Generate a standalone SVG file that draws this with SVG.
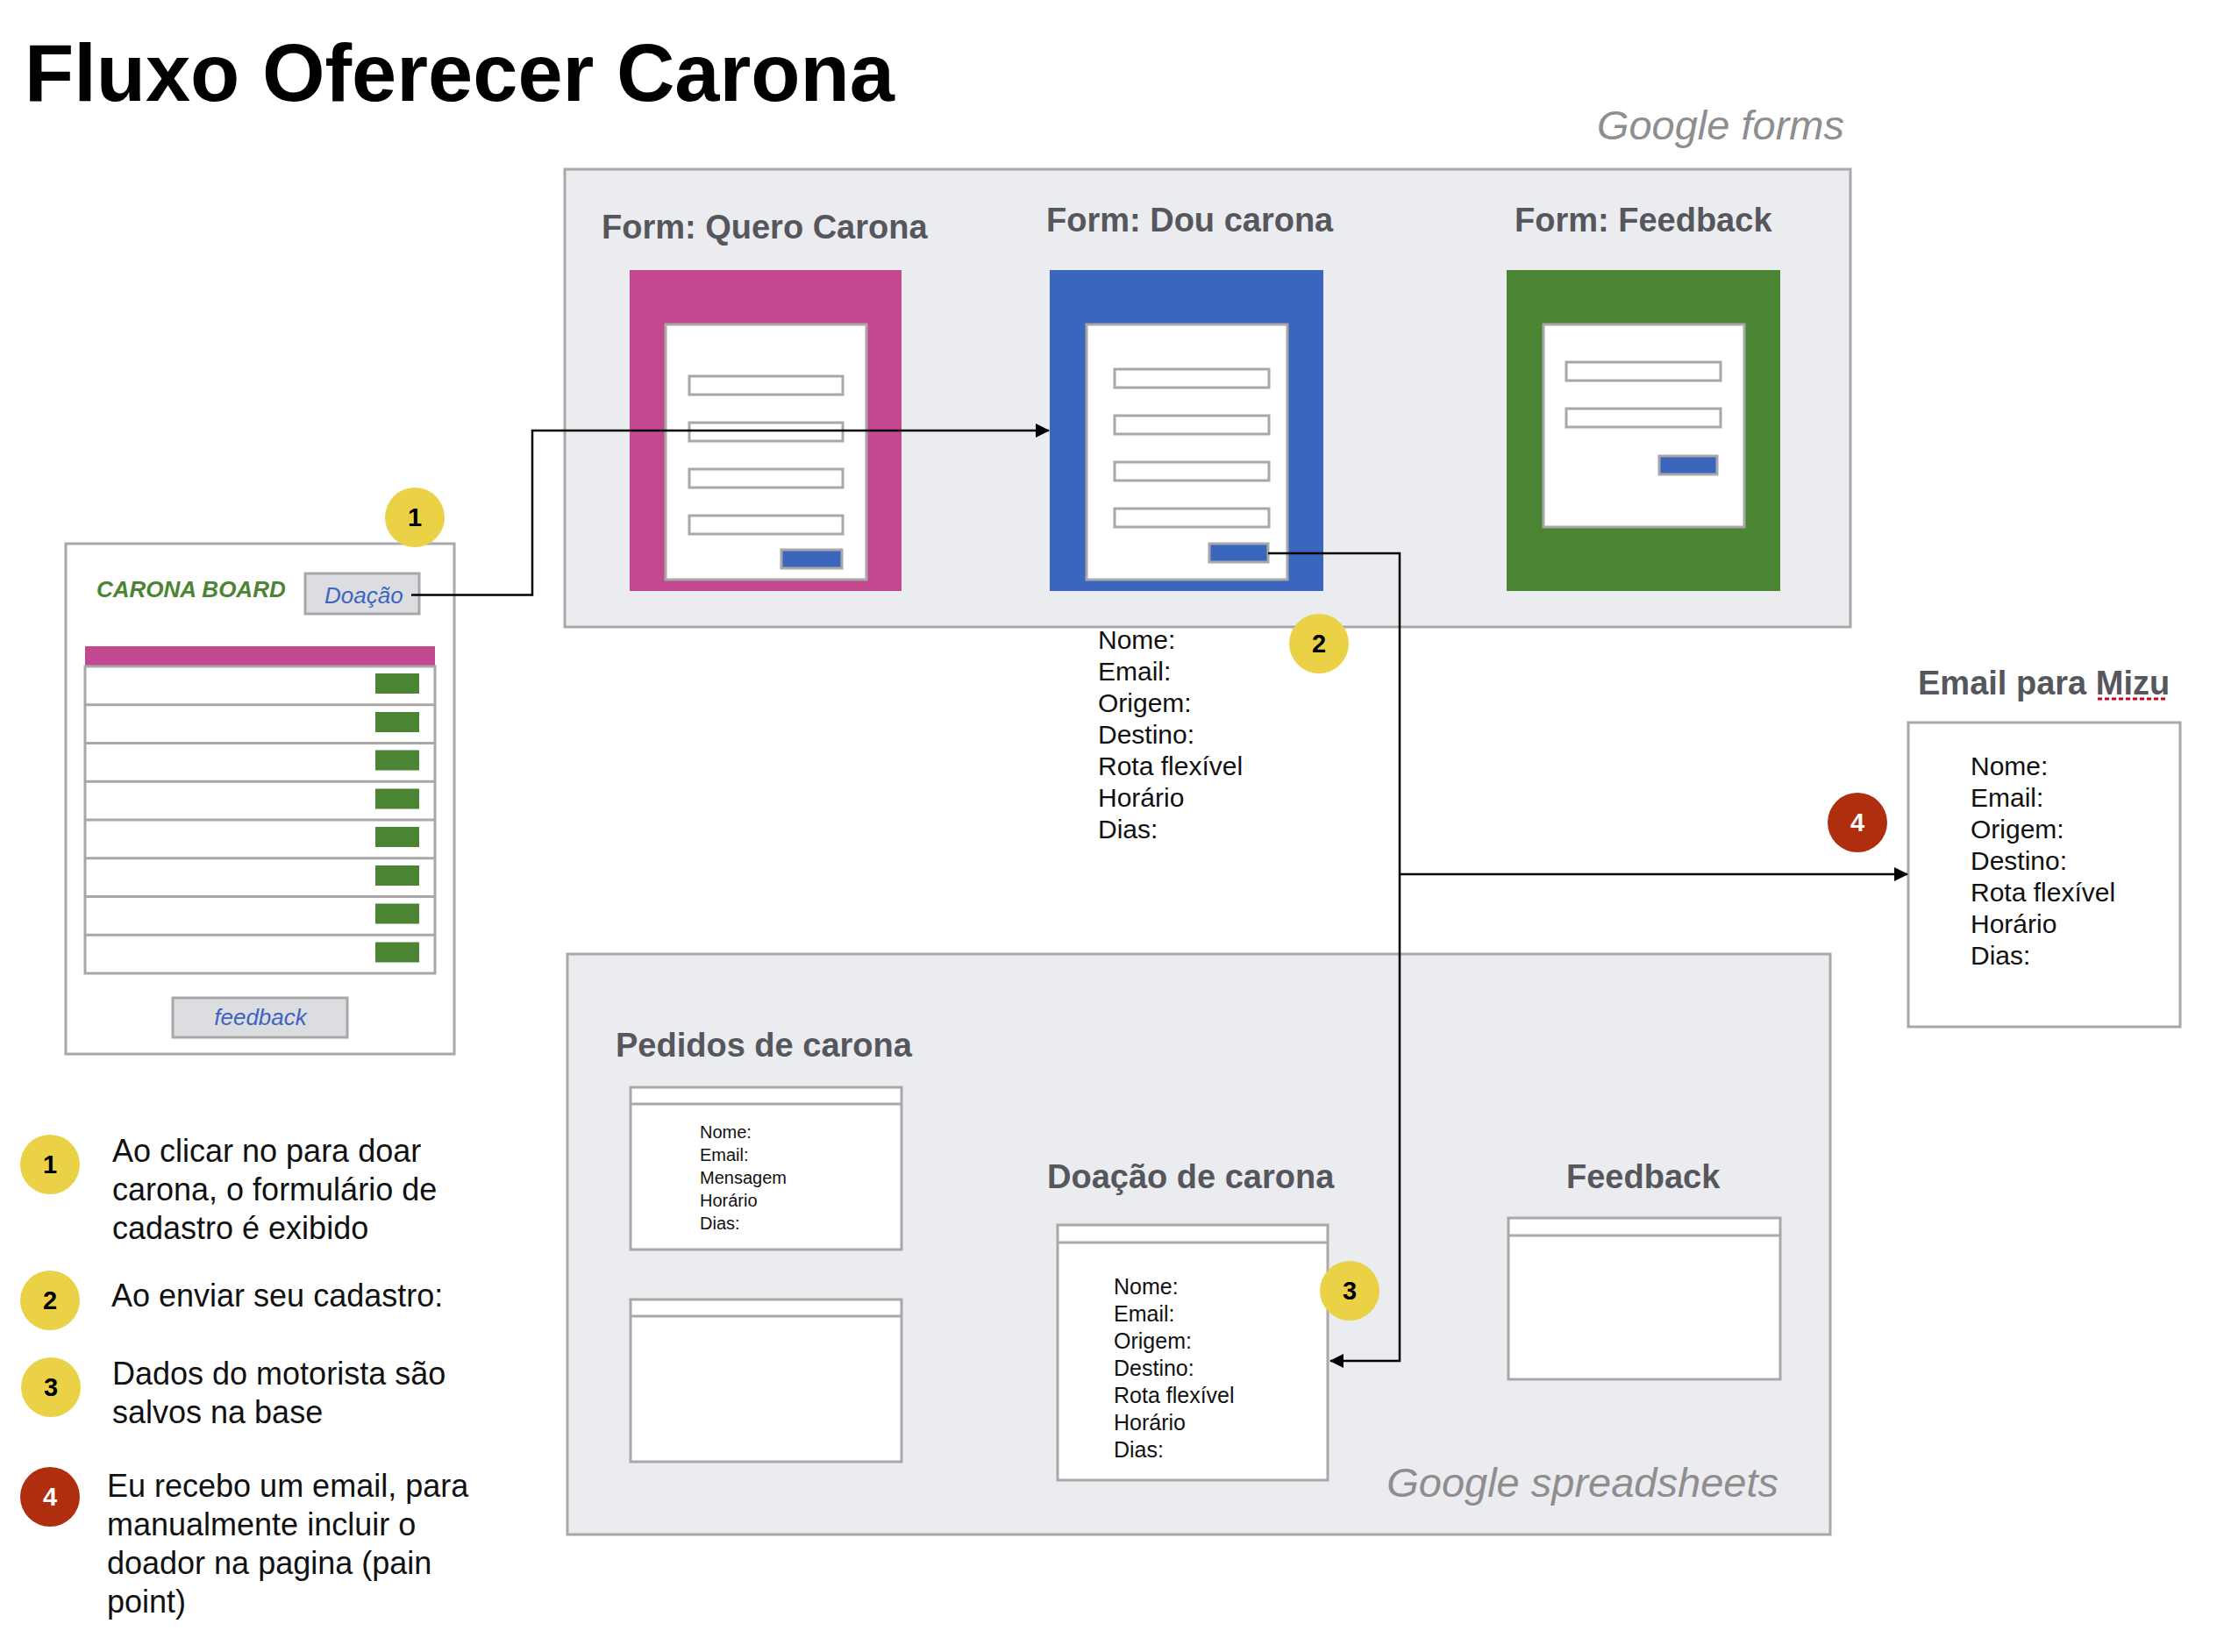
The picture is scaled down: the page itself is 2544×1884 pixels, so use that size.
<svg xmlns="http://www.w3.org/2000/svg" width="2544" height="1884" viewBox="0 0 2544 1884">
  <defs>
    <style>
      text { font-family: "Liberation Sans", Arial, Helvetica, sans-serif; }
      .title { font-size: 92px; font-weight: bold; fill: #000; }
      .head { font-size: 38px; font-weight: bold; fill: #55575d; }
      .service { font-size: 47px; font-style: italic; fill: #8e8e8e; }
      .panel { fill: #ebecf0; stroke: #a8a8a8; stroke-width: 3; }
      .sheet { fill: #fff; stroke: #a8a8a8; stroke-width: 3; }
      .field { fill: #fff; stroke: #a8a8a8; stroke-width: 3; }
      .submit { fill: #3a66bd; stroke: #a8a8a8; stroke-width: 3; }
      .btn { fill: #dcdde0; stroke: #a8a8a8; stroke-width: 3; }
      .btn-label { font-size: 26px; font-style: italic; fill: #3d64c0; }
      .row-btn { fill: #4b8534; }
      .body30 { font-size: 30px; fill: #111; }
      .body25 { font-size: 25px; fill: #111; }
      .body20 { font-size: 20px; fill: #111; }
      .legend { font-size: 36px; fill: #111; }
      .badge { fill: #ead146; }
      .badge-red { fill: #ae2e0e; }
      .badge-num { font-size: 29px; font-weight: bold; fill: #000; text-anchor: middle; }
      .badge-num-w { font-size: 29px; font-weight: bold; fill: #fff; text-anchor: middle; }
      .wire { fill: none; stroke: #000; stroke-width: 2.5; }
    </style>
    <marker id="arrow" viewBox="0 0 16 16" refX="15" refY="8" markerWidth="16" markerHeight="16" markerUnits="userSpaceOnUse" orient="auto">
      <path d="M0,0 L16,8 L0,16 Z" fill="#000"/>
    </marker>
  </defs>

  <rect x="0" y="0" width="2544" height="1884" fill="#fff"/>

  <text class="title" x="28" y="115">Fluxo Oferecer Carona</text>

  <!-- Google forms container -->
  <g id="google-forms">
    <rect class="panel" x="644" y="193" width="1466" height="522"/>
    <text class="service" x="2103" y="159" text-anchor="end">Google forms</text>
  </g>

  <g id="form-quero-carona">
    <text class="head" x="686" y="272">Form: Quero Carona</text>
    <rect x="718" y="308" width="310" height="366" fill="#c4488f"/>
    <rect class="sheet" x="759" y="370" width="229" height="291"/>
    <rect class="field" x="786" y="429" width="175" height="21"/>
    <rect class="field" x="786" y="482" width="175" height="21"/>
    <rect class="field" x="786" y="535" width="175" height="21"/>
    <rect class="field" x="786" y="588" width="175" height="21"/>
    <rect class="submit" x="891" y="627" width="69" height="21"/>
  </g>

  <g id="form-dou-carona">
    <text class="head" x="1193" y="264">Form: Dou carona</text>
    <rect x="1197" y="308" width="312" height="366" fill="#3a66bd"/>
    <rect class="sheet" x="1239" y="370" width="229" height="291"/>
    <rect class="field" x="1271" y="421" width="176" height="21"/>
    <rect class="field" x="1271" y="474" width="176" height="21"/>
    <rect class="field" x="1271" y="527" width="176" height="21"/>
    <rect class="field" x="1271" y="580" width="176" height="21"/>
    <rect class="submit" x="1379" y="620" width="67" height="21"/>
  </g>

  <g id="form-feedback">
    <text class="head" x="1727" y="264">Form: Feedback</text>
    <rect x="1718" y="308" width="312" height="366" fill="#4b8534"/>
    <rect class="sheet" x="1760" y="370" width="229" height="231"/>
    <rect class="field" x="1786" y="413" width="176" height="21"/>
    <rect class="field" x="1786" y="466" width="176" height="21"/>
    <rect class="submit" x="1892" y="520" width="66" height="21"/>
  </g>

  <!-- Fields sent with the ride offer -->
  <g id="offer-fields">
    <text class="body30" x="1252" y="740">Nome:</text>
    <text class="body30" x="1252" y="776">Email:</text>
    <text class="body30" x="1252" y="812">Origem:</text>
    <text class="body30" x="1252" y="848">Destino:</text>
    <text class="body30" x="1252" y="884">Rota flexível</text>
    <text class="body30" x="1252" y="920">Horário</text>
    <text class="body30" x="1252" y="956">Dias:</text>
  </g>

  <!-- Carona board page -->
  <g id="carona-board">
    <rect class="sheet" x="75" y="620" width="443" height="582"/>
    <text x="110" y="681" font-size="26" font-weight="bold" font-style="italic" fill="#4b8534">CARONA BOARD</text>
    <rect class="btn" x="348" y="654" width="130" height="46"/>
    <text class="btn-label" x="370" y="688">Doação</text>
    <rect x="97" y="737" width="399" height="23" fill="#c4488f"/>
    <rect x="97" y="760" width="399" height="350" fill="#fff" stroke="#a8a8a8" stroke-width="3"/>
    <g stroke="#a8a8a8" stroke-width="3">
      <line x1="97" y1="803.75" x2="496" y2="803.75"/>
      <line x1="97" y1="847.5" x2="496" y2="847.5"/>
      <line x1="97" y1="891.25" x2="496" y2="891.25"/>
      <line x1="97" y1="935" x2="496" y2="935"/>
      <line x1="97" y1="978.75" x2="496" y2="978.75"/>
      <line x1="97" y1="1022.5" x2="496" y2="1022.5"/>
      <line x1="97" y1="1066.25" x2="496" y2="1066.25"/>
    </g>
    <rect class="row-btn" x="428" y="768" width="50" height="23"/>
    <rect class="row-btn" x="428" y="812" width="50" height="23"/>
    <rect class="row-btn" x="428" y="855.5" width="50" height="23"/>
    <rect class="row-btn" x="428" y="899.5" width="50" height="23"/>
    <rect class="row-btn" x="428" y="943" width="50" height="23"/>
    <rect class="row-btn" x="428" y="987" width="50" height="23"/>
    <rect class="row-btn" x="428" y="1030.5" width="50" height="23"/>
    <rect class="row-btn" x="428" y="1074.5" width="50" height="23"/>
    <rect class="btn" x="197" y="1138" width="199" height="45"/>
    <text class="btn-label" x="297" y="1169" text-anchor="middle">feedback</text>
  </g>

  <!-- Email sent to Mizu -->
  <g id="email-mizu">
    <text class="head" x="2187" y="792">Email para Mizu</text>
    <line x1="2392" y1="797" x2="2471" y2="797" stroke="#d0021b" stroke-width="3" stroke-dasharray="5,3"/>
    <rect class="sheet" x="2176" y="824" width="310" height="347"/>
    <text class="body30" x="2247" y="884">Nome:</text>
    <text class="body30" x="2247" y="920">Email:</text>
    <text class="body30" x="2247" y="956">Origem:</text>
    <text class="body30" x="2247" y="992">Destino:</text>
    <text class="body30" x="2247" y="1028">Rota flexível</text>
    <text class="body30" x="2247" y="1064">Horário</text>
    <text class="body30" x="2247" y="1100">Dias:</text>
  </g>

  <!-- Google spreadsheets container -->
  <g id="google-spreadsheets">
    <rect class="panel" x="647" y="1088" width="1440" height="662"/>
    <text class="service" x="2028" y="1707" text-anchor="end">Google spreadsheets</text>
  </g>

  <g id="sheet-pedidos">
    <text class="head" x="702" y="1205">Pedidos de carona</text>
    <rect class="sheet" x="719" y="1240" width="309" height="185"/>
    <line x1="719" y1="1259" x2="1028" y2="1259" stroke="#a8a8a8" stroke-width="3"/>
    <text class="body20" x="798" y="1298">Nome:</text>
    <text class="body20" x="798" y="1324">Email:</text>
    <text class="body20" x="798" y="1350">Mensagem</text>
    <text class="body20" x="798" y="1376">Horário</text>
    <text class="body20" x="798" y="1402">Dias:</text>
    <rect class="sheet" x="719" y="1482" width="309" height="185"/>
    <line x1="719" y1="1501" x2="1028" y2="1501" stroke="#a8a8a8" stroke-width="3"/>
  </g>

  <g id="sheet-doacao">
    <text class="head" x="1194" y="1355">Doação de carona</text>
    <rect class="sheet" x="1206" y="1397" width="308" height="291"/>
    <line x1="1206" y1="1417" x2="1514" y2="1417" stroke="#a8a8a8" stroke-width="3"/>
    <text class="body25" x="1270" y="1476">Nome:</text>
    <text class="body25" x="1270" y="1507">Email:</text>
    <text class="body25" x="1270" y="1538">Origem:</text>
    <text class="body25" x="1270" y="1569">Destino:</text>
    <text class="body25" x="1270" y="1600">Rota flexível</text>
    <text class="body25" x="1270" y="1631">Horário</text>
    <text class="body25" x="1270" y="1662">Dias:</text>
  </g>

  <g id="sheet-feedback">
    <text class="head" x="1786" y="1355">Feedback</text>
    <rect class="sheet" x="1720" y="1389" width="310" height="184"/>
    <line x1="1720" y1="1409" x2="2030" y2="1409" stroke="#a8a8a8" stroke-width="3"/>
  </g>

  <!-- Connectors -->
  <g id="connectors">
    <path class="wire" d="M469,678.5 H607 V491 H1196" marker-end="url(#arrow)"/>
    <path class="wire" d="M1446,631 H1596 V1552 H1517" marker-end="url(#arrow)"/>
    <path class="wire" d="M1596,997 H2175" marker-end="url(#arrow)"/>
  </g>

  <!-- Step badges on the flow -->
  <g id="badge-1">
    <circle class="badge" cx="473" cy="590" r="34"/>
    <text class="badge-num" x="473" y="600">1</text>
  </g>
  <g id="badge-2">
    <circle class="badge" cx="1504" cy="734" r="34"/>
    <text class="badge-num" x="1504" y="744">2</text>
  </g>
  <g id="badge-3">
    <circle class="badge" cx="1539" cy="1472" r="34"/>
    <text class="badge-num" x="1539" y="1482">3</text>
  </g>
  <g id="badge-4">
    <circle class="badge-red" cx="2118" cy="938" r="34"/>
    <text class="badge-num-w" x="2118" y="948">4</text>
  </g>

  <!-- Legend -->
  <g id="legend-1">
    <circle class="badge" cx="57" cy="1328" r="34"/>
    <text class="badge-num" x="57" y="1338">1</text>
    <text class="legend" x="128" y="1325">Ao clicar no para doar</text>
    <text class="legend" x="128" y="1369">carona, o formulário de</text>
    <text class="legend" x="128" y="1413">cadastro é exibido</text>
  </g>
  <g id="legend-2">
    <circle class="badge" cx="57" cy="1483" r="34"/>
    <text class="badge-num" x="57" y="1493">2</text>
    <text class="legend" x="127" y="1490">Ao enviar seu cadastro:</text>
  </g>
  <g id="legend-3">
    <circle class="badge" cx="58" cy="1582" r="34"/>
    <text class="badge-num" x="58" y="1592">3</text>
    <text class="legend" x="128" y="1579">Dados do motorista são</text>
    <text class="legend" x="128" y="1623">salvos na base</text>
  </g>
  <g id="legend-4">
    <circle class="badge-red" cx="57" cy="1707" r="34"/>
    <text class="badge-num-w" x="57" y="1717">4</text>
    <text class="legend" x="122" y="1707">Eu recebo um email, para</text>
    <text class="legend" x="122" y="1751">manualmente incluir o</text>
    <text class="legend" x="122" y="1795">doador na pagina (pain</text>
    <text class="legend" x="122" y="1839">point)</text>
  </g>
</svg>
